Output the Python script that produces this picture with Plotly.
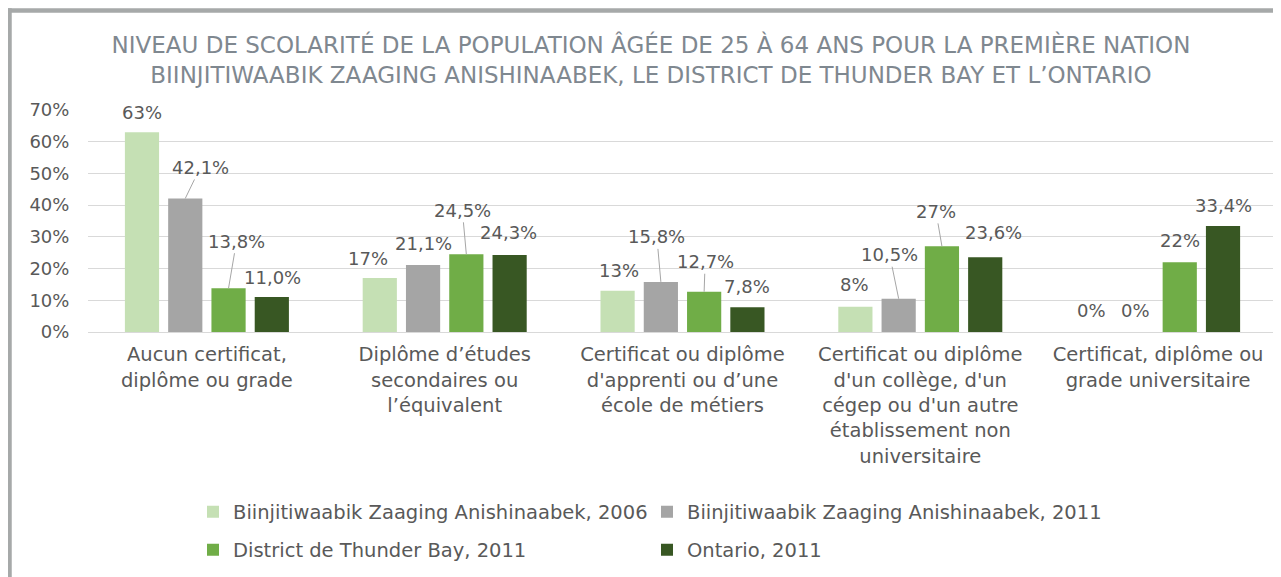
import plotly.graph_objects as go

# ---------------- data ----------------
categories = [
    "Aucun certificat,<br>diplôme ou grade",
    "Diplôme d’études<br>secondaires ou<br>l’équivalent",
    "Certificat ou diplôme<br>d'apprenti ou d’une<br>école de métiers",
    "Certificat ou diplôme<br>d'un collège, d'un<br>cégep ou d'un autre<br>établissement non<br>universitaire",
    "Certificat, diplôme ou<br>grade universitaire",
]
series_names = [
    "Biinjitiwaabik Zaaging Anishinaabek, 2006",
    "Biinjitiwaabik Zaaging Anishinaabek, 2011",
    "District de Thunder Bay, 2011",
    "Ontario, 2011",
]
bza_2006 = [63, 17, 13, 8, 0]
bza_2011 = [42.1, 21.1, 15.8, 10.5, 0]
thunder_bay_2011 = [13.8, 24.5, 12.7, 27, 22]
ontario_2011 = [11.0, 24.3, 7.8, 23.6, 33.4]
labels_bza_2006 = ["63%", "17%", "13%", "8%", "0%"]
labels_bza_2011 = ["42,1%", "21,1%", "15,8%", "10,5%", "0%"]
labels_thunder_bay_2011 = ["13,8%", "24,5%", "12,7%", "27%", "22%"]
labels_ontario_2011 = ["11,0%", "24,3%", "7,8%", "23,6%", "33,4%"]
y_tick_vals = [0, 10, 20, 30, 40, 50, 60, 70]
y_tick_text = ["0%", "10%", "20%", "30%", "40%", "50%", "60%", "70%"]

series_values = [bza_2006, bza_2011, thunder_bay_2011, ontario_2011]
series_labels = [labels_bza_2006, labels_bza_2011, labels_thunder_bay_2011, labels_ontario_2011]

# ---------------- style / layout ----------------
colors = ["#C5E0B4", "#A5A5A5", "#70AD47", "#385723"]
text_color = "#595959"
title_color = "#7F8890"
FONT = "DejaVu Sans"

# the page body has an 8px margin; reference pixel p -> figure pixel p - OFF
OFF = 8
W, H = 1281 - OFF, 577 - OFF
ML, MR, MT, MB = 88 - OFF, 4, 110 - OFF, 577 - 332
plot_w = W - ML - MR
plot_h = H - MT - MB
BARGAP = 0.272
BARGROUPGAP = 0.21
slot_px = plot_w / len(categories) * (1 - BARGAP) / 4


def px_x(px):
    """reference-image x pixel -> paper fraction"""
    return (px - OFF - ML) / plot_w


def px_y(py):
    """reference-image y pixel -> paper fraction"""
    return (H - MB - (py - OFF)) / plot_h


# label offsets (dx right, dy up, leader line?) in px relative to top-centre of each bar
label_offsets = [
    [(0, 20, False), (-12, 20, False), (1, 20, False), (-1, 22, False), (-2, 22, False)],
    [(15, 31, True), (0, 22, False), (-4, 45, True), (-9, 44, True), (-1, 22, False)],
    [(8, 47, True), (-4, 44, True), (1, 30, True), (-6, 35, True), (0, 22, False)],
    [(1, 20, False), (-1, 22, False), (0, 21, False), (8, 25, False), (0, 21, False)],
]

fig = go.Figure()
legend_ids = ["legend", "legend2", "legend3", "legend4"]
for i, (name, vals) in enumerate(zip(series_names, series_values)):
    fig.add_trace(go.Bar(
        x=categories, y=vals, name=name,
        marker=dict(color=colors[i], line=dict(width=0)),
        legend=legend_ids[i], showlegend=True,
        hoverinfo="skip",
    ))

annotations = []
for i, labs in enumerate(series_labels):
    base_shift = (i - 1.5) * slot_px
    for j, lab in enumerate(labs):
        dx, dy, leader = label_offsets[i][j]
        common = dict(x=categories[j], y=series_values[i][j], xref="x", yref="y",
                      text=lab, font=dict(family=FONT, size=18, color=text_color))
        if leader:
            annotations.append(dict(**common, showarrow=True, arrowhead=0, arrowwidth=1,
                                    arrowcolor="#A6A6A6", standoff=0, startstandoff=0,
                                    ax=dx, ay=-dy, xshift=base_shift))
        else:
            annotations.append(dict(**common, showarrow=False,
                                    xshift=base_shift + dx, yshift=dy))

border_color = "#A6A9A9"
shapes = [
    dict(type="line", xref="paper", yref="paper",
         x0=px_x(7), x1=px_x(1290), y0=px_y(10.5), y1=px_y(10.5),
         line=dict(color=border_color, width=4.5)),
    dict(type="line", xref="paper", yref="paper",
         x0=px_x(9.5), x1=px_x(9.5), y0=px_y(8.3), y1=px_y(590),
         line=dict(color=border_color, width=4.5)),
]

legend_common = dict(bgcolor="rgba(0,0,0,0)", borderwidth=0, yanchor="middle",
                     xanchor="left", font=dict(family=FONT, size=19.5, color=text_color),
                     itemwidth=30, itemclick=False, itemdoubleclick=False)
legend_pos = [(193, 512), (647, 512), (193, 550), (647, 550)]
legend_layout = {}
for lid, (lx, ly) in zip(legend_ids, legend_pos):
    legend_layout[lid] = dict(**legend_common, x=px_x(lx), y=px_y(ly))

fig.update_layout(
    width=W, height=H,
    margin=dict(l=ML, r=MR, t=MT, b=MB, autoexpand=False),
    paper_bgcolor="white", plot_bgcolor="white",
    barmode="group", bargap=BARGAP, bargroupgap=BARGROUPGAP,
    showlegend=True,
    font=dict(family=FONT, color=text_color),
    title=dict(
        text="NIVEAU DE SCOLARITÉ DE LA POPULATION ÂGÉE DE 25 À 64 ANS POUR LA PREMIÈRE NATION<br>"
             "BIINJITIWAABIK ZAAGING ANISHINAABEK, LE DISTRICT DE THUNDER BAY ET L’ONTARIO",
        x=(651 - OFF) / W, xref="container", xanchor="center",
        y=1 - (53 - OFF) / H, yref="container", yanchor="middle",
        font=dict(family=FONT, size=23, color=title_color),
    ),
    xaxis=dict(
        showgrid=False, showline=False, zeroline=False,
        ticks="outside", ticklen=5, tickcolor="rgba(0,0,0,0)",
        tickfont=dict(family=FONT, size=19.5, color=text_color),
        fixedrange=True,
    ),
    yaxis=dict(
        range=[0, 70], tickvals=y_tick_vals, ticktext=y_tick_text,
        showgrid=True, gridcolor="#D9D9D9", gridwidth=1.3,
        zeroline=True, zerolinecolor="#D9D9D9", zerolinewidth=1.3,
        showline=False, ticks="outside", ticklen=14, tickcolor="rgba(0,0,0,0)",
        tickfont=dict(family=FONT, size=18, color=text_color),
        fixedrange=True,
    ),
    annotations=annotations,
    shapes=shapes,
    **legend_layout,
)

fig.write_html("out.html", config={"displayModeBar": False})
